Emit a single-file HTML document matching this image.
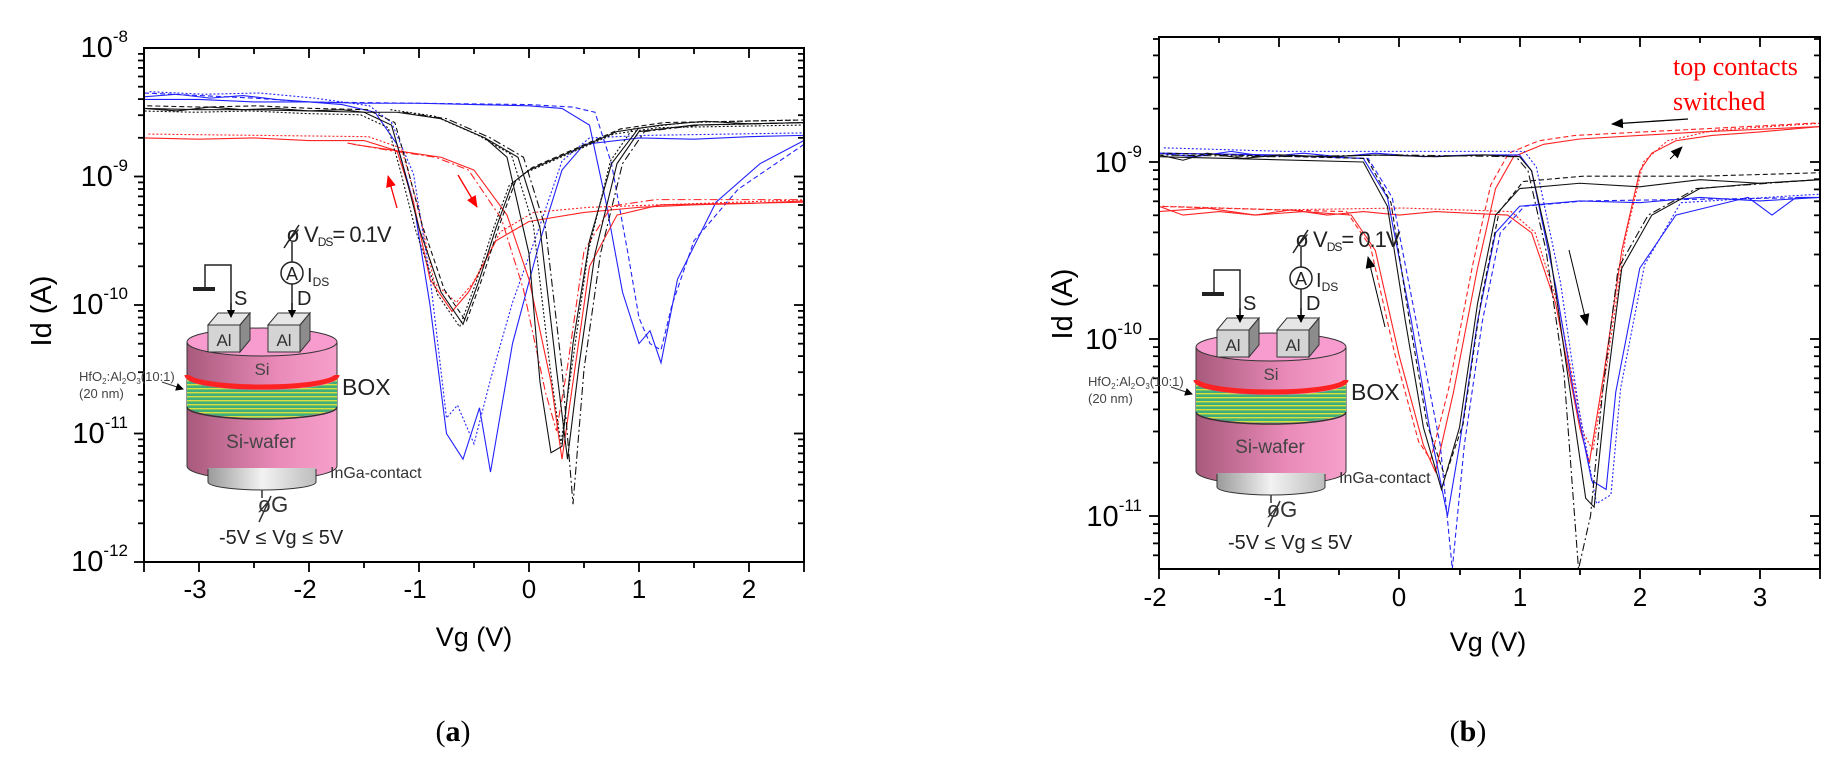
<!DOCTYPE html>
<html><head><meta charset="utf-8">
<style>
html,body{margin:0;padding:0;background:#fff;}
svg{display:block;}
.c polyline{fill:none;vector-effect:non-scaling-stroke;stroke-width:1.1;}
.k polyline{stroke:#111;} .r polyline{stroke:#f22;} .b polyline{stroke:#22f;}
.d1{stroke-dasharray:5,3;} .d2{stroke-dasharray:2,2;} .d3{stroke-dasharray:8,3,2,3;}
.tk line{stroke:#000;stroke-width:1.8;}
</style></head>
<body>
<svg width="1842" height="758" viewBox="0 0 1842 758" xmlns="http://www.w3.org/2000/svg" font-family="Liberation Sans, Arial, sans-serif">
<defs>
<linearGradient id="cyl" x1="0" x2="1" y1="0" y2="0">
<stop offset="0" stop-color="#a85a7c"/><stop offset="0.6" stop-color="#e98ab8"/><stop offset="1" stop-color="#f7a0cc"/>
</linearGradient>
<linearGradient id="gray" x1="0" x2="1" y1="0" y2="0">
<stop offset="0" stop-color="#9a9a9a"/><stop offset="0.5" stop-color="#f2f2f2"/><stop offset="1" stop-color="#bdbdbd"/>
</linearGradient>
<pattern id="stripes" width="6" height="4" patternUnits="userSpaceOnUse">
<rect width="6" height="4" fill="#3fae7a"/><rect y="0" width="6" height="1.4" fill="#d8e040"/>
</pattern>
<clipPath id="cl"><rect x="144" y="48" width="660" height="514"/></clipPath>
<clipPath id="cr"><rect x="1159" y="37" width="661" height="532"/></clipPath>
<marker id="ah" markerWidth="8" markerHeight="8" refX="7" refY="4" orient="auto" markerUnits="userSpaceOnUse"><path d="M0,0 L8,4 L0,8 z" fill="#000"/></marker>
<marker id="ahr" markerWidth="12" markerHeight="10" refX="11" refY="5" orient="auto" markerUnits="userSpaceOnUse"><path d="M0,0 L12,5 L0,10 z" fill="#f00"/></marker>
<marker id="ahb" markerWidth="12" markerHeight="10" refX="11" refY="5" orient="auto" markerUnits="userSpaceOnUse"><path d="M0,0 L12,5 L0,10 z" fill="#000"/></marker>
<g id="decL" class="tk">
 <line x1="-10" y1="0" x2="0" y2="0"/>
 <line x1="-6" y1="-38.7" x2="0" y2="-38.7"/><line x1="-6" y1="-61.3" x2="0" y2="-61.3"/>
 <line x1="-6" y1="-77.4" x2="0" y2="-77.4"/><line x1="-6" y1="-89.8" x2="0" y2="-89.8"/>
 <line x1="-6" y1="-100" x2="0" y2="-100"/><line x1="-6" y1="-108.6" x2="0" y2="-108.6"/>
 <line x1="-6" y1="-116" x2="0" y2="-116"/><line x1="-6" y1="-122.6" x2="0" y2="-122.6"/>
</g>
<g id="decR" class="tk">
 <line x1="-10" y1="0" x2="0" y2="0"/>
 <line x1="-6" y1="-53.3" x2="0" y2="-53.3"/><line x1="-6" y1="-84.5" x2="0" y2="-84.5"/>
 <line x1="-6" y1="-106.6" x2="0" y2="-106.6"/><line x1="-6" y1="-123.7" x2="0" y2="-123.7"/>
 <line x1="-6" y1="-137.7" x2="0" y2="-137.7"/><line x1="-6" y1="-149.6" x2="0" y2="-149.6"/>
 <line x1="-6" y1="-159.8" x2="0" y2="-159.8"/><line x1="-6" y1="-168.9" x2="0" y2="-168.9"/>
</g>
<g id="inset">
  <rect x="193" y="287" width="22" height="4" fill="#222"/>
  <polyline points="205,289 205,265 231,265 231,317" fill="none" stroke="#222" stroke-width="1.5" marker-end="url(#ah)"/>
  <line x1="292" y1="284" x2="292" y2="317" stroke="#222" stroke-width="1.5" marker-end="url(#ah)"/>
  <line x1="292" y1="262" x2="292" y2="242" stroke="#222" stroke-width="1.5"/>
  <circle cx="292" cy="273" r="11" fill="#fff" stroke="#222" stroke-width="1.5"/>
  <text x="292" y="280" font-size="18" text-anchor="middle" fill="#222">A</text>
  <text x="293" y="242" font-size="22" text-anchor="middle" fill="#222">ø</text>
  <line x1="284" y1="248" x2="299" y2="225" stroke="#222" stroke-width="1.5"/>
  <text x="304" y="242" font-size="22" fill="#222" letter-spacing="-1">V<tspan font-size="12" dy="4">DS</tspan><tspan dy="-4">= 0.1V</tspan></text>
  <text x="307" y="282" font-size="20" fill="#222">I<tspan font-size="12" dy="4">DS</tspan></text>
  <text x="234" y="305" font-size="20" fill="#222">S</text>
  <text x="297" y="305" font-size="20" fill="#222">D</text>
  <rect x="187" y="342" width="150" height="124" fill="url(#cyl)"/>
  <path d="M187,466 A75,14 0 0 0 337,466" fill="url(#cyl)" stroke="#333" stroke-width="1"/>
  <line x1="187" y1="342" x2="187" y2="466" stroke="#333"/>
  <line x1="337" y1="342" x2="337" y2="466" stroke="#333"/>
  <path d="M187,378 A75,12 0 0 0 337,378 L337,406 A75,12 0 0 1 187,406 z" fill="url(#stripes)"/>
  <path d="M187,375 A75,12 0 0 0 337,375" fill="none" stroke="#f22" stroke-width="5"/>
  <path d="M187,407 A75,12 0 0 0 337,407" fill="none" stroke="#333" stroke-width="1.5"/>
  <ellipse cx="262" cy="342" rx="75" ry="14" fill="#f89ccf" stroke="#333" stroke-width="1"/>
  <rect x="208" y="468" width="108" height="14" fill="url(#gray)"/>
  <path d="M208,482 A54,8 0 0 0 316,482" fill="url(#gray)" stroke="#333"/>
  <line x1="208" y1="469" x2="208" y2="482" stroke="#333"/>
  <line x1="316" y1="469" x2="316" y2="482" stroke="#333"/>
  <line x1="262" y1="490" x2="262" y2="498" stroke="#333" stroke-width="1.5"/>
  <g stroke="#333" stroke-width="1">
   <polygon points="208,325 218,313 250,313 240,325" fill="#e6e6e6"/>
   <polygon points="240,325 250,313 250,340 240,352" fill="#8c8c8c"/>
   <rect x="208" y="325" width="32" height="27" fill="#d4d4d4"/>
   <polygon points="268,325 278,313 310,313 300,325" fill="#e6e6e6"/>
   <polygon points="300,325 310,313 310,340 300,352" fill="#8c8c8c"/>
   <rect x="268" y="325" width="32" height="27" fill="#d4d4d4"/>
  </g>
  <polyline points="231,303 231,317" stroke="#222" stroke-width="1.5" marker-end="url(#ah)"/>
  <polyline points="292,303 292,317" stroke="#222" stroke-width="1.5" marker-end="url(#ah)"/>
  <text x="224" y="346" font-size="17" text-anchor="middle" fill="#333">Al</text>
  <text x="284" y="346" font-size="17" text-anchor="middle" fill="#333">Al</text>
  <text x="262" y="375" font-size="17" text-anchor="middle" fill="#444">Si</text>
  <text x="261" y="448" font-size="19" text-anchor="middle" fill="#444">Si-wafer</text>
  <text x="342" y="395" font-size="23" fill="#222">BOX</text>
  <text x="79" y="381" font-size="13" fill="#444">HfO<tspan font-size="8" dy="3">2</tspan><tspan dy="-3">:Al</tspan><tspan font-size="8" dy="3">2</tspan><tspan dy="-3">O</tspan><tspan font-size="8" dy="3">3</tspan><tspan dy="-3">(10:1)</tspan></text>
  <text x="79" y="398" font-size="13" fill="#444">(20 nm)</text>
  <line x1="162" y1="382" x2="183" y2="389" stroke="#333" stroke-width="1" marker-end="url(#ah)"/>
  <text x="330" y="478" font-size="16" fill="#333">InGa-contact</text>
  <text x="273" y="512" font-size="22" text-anchor="middle" fill="#333">øG</text>
  <line x1="259" y1="522" x2="271" y2="496" stroke="#333" stroke-width="1.5"/>
  <text x="219" y="544" font-size="20" fill="#222">-5V ≤ Vg ≤ 5V</text>
</g>
</defs>

<g clip-path="url(#cl)">
<g class="c" transform="matrix(110 0 0 -128.5 529 -980)">
 <g class="b">
  <polyline points="-3.5,-8.38 -3.2,-8.36 -2.9,-8.39 -2.6,-8.37 -2.3,-8.4 -2,-8.42 -1.7,-8.44 -1.4,-8.5 -1.2,-8.75 -1.05,-9.2 -0.9,-10 -0.75,-11 -0.6,-11.2 -0.45,-10.8 -0.35,-11.3 -0.15,-10.3 0.1,-9.5 0.3,-8.95 0.5,-8.75 1,-8.7 1.5,-8.71 2,-8.69 2.5,-8.68"/>
  <polyline class="d2" transform="translate(0.05,0.02)" points="-3.5,-8.36 -3,-8.38 -2.5,-8.37 -2,-8.41 -1.5,-8.47 -1.3,-8.6 -1.1,-9 -0.95,-9.8 -0.8,-10.9 -0.7,-10.8 -0.55,-11.1 -0.4,-10.6 -0.2,-10 0.05,-9.4 0.25,-8.9 0.5,-8.72 1,-8.7 2.5,-8.68"/>
  <polyline points="-3.5,-8.4 -3,-8.4 -2.5,-8.42 -2,-8.42 -1.5,-8.43 -1,-8.43 -0.5,-8.44 0,-8.45 0.3,-8.47 0.55,-8.6 0.7,-9.2 0.85,-9.9 1.0,-10.3 1.1,-10.2 1.2,-10.45 1.35,-9.8 1.7,-9.2 2.1,-8.9 2.5,-8.72"/>
  <polyline class="d1" points="-3.5,-8.35 -3,-8.37 -2.5,-8.39 -2,-8.42 -1,-8.43 0,-8.44 0.4,-8.46 0.6,-8.5 0.75,-8.9 0.9,-9.6 1.0,-10.1 1.1,-10.3 1.2,-10.35 1.3,-10.0 1.5,-9.5 1.9,-9.1 2.5,-8.75"/>
 </g>
 <g class="r">
  <polyline points="-3.5,-8.7 -3,-8.71 -2.5,-8.7 -2,-8.72 -1.5,-8.72 -1.2,-8.8 -1.05,-9.2 -0.9,-9.8 -0.7,-10.05 -0.55,-9.9 -0.3,-9.5 0,-9.35 0.5,-9.28 1,-9.24 1.5,-9.22 2,-9.21 2.5,-9.19"/>
  <polyline class="d2" transform="translate(0.04,0.02)" points="-3.5,-8.69 -2.5,-8.7 -1.5,-8.71 -1.2,-8.8 -1.05,-9.25 -0.9,-9.85 -0.7,-10.0 -0.55,-9.85 -0.3,-9.45 0,-9.3 0.5,-9.26 2.5,-9.2"/>
  <polyline points="-1.6,-8.75 -1.2,-8.8 -0.8,-8.85 -0.5,-8.95 -0.2,-9.3 0,-9.8 0.2,-10.6 0.3,-11.2 0.4,-10.6 0.55,-9.7 0.8,-9.3 1.2,-9.22 2.5,-9.2"/>
  <polyline class="d3" transform="translate(-0.05,0.02)" points="-1.6,-8.76 -1.2,-8.82 -0.8,-8.87 -0.5,-8.97 -0.2,-9.35 0,-9.9 0.2,-10.7 0.3,-11.0 0.4,-10.5 0.55,-9.6 0.8,-9.25 1.2,-9.2 2.5,-9.2"/>
 </g>
 <g class="k">
  <polyline points="-3.5,-8.47 -3.2,-8.49 -2.9,-8.46 -2.6,-8.48 -2.3,-8.47 -2,-8.49 -1.7,-8.48 -1.5,-8.5 -1.25,-8.6 -1.15,-8.9 -1,-9.4 -0.8,-9.9 -0.6,-10.15 -0.45,-9.8 -0.3,-9.4 -0.15,-9.05 0,-8.95 0.4,-8.8 0.8,-8.65 1.2,-8.6 1.6,-8.57 2,-8.59 2.5,-8.58"/>
  <polyline class="d1" transform="translate(0.03,0.02)" points="-3.5,-8.47 -3,-8.48 -2.5,-8.47 -2,-8.49 -1.5,-8.5 -1.25,-8.6 -1.15,-8.9 -1,-9.4 -0.8,-9.9 -0.6,-10.15 -0.45,-9.8 -0.3,-9.4 -0.15,-9.05 0,-8.95 0.4,-8.8 0.8,-8.65 1.2,-8.6 2.5,-8.58"/>
  <polyline class="d2" transform="translate(-0.03,-0.02)" points="-3.5,-8.47 -3,-8.48 -2.5,-8.47 -2,-8.49 -1.5,-8.5 -1.25,-8.6 -1.15,-8.9 -1,-9.4 -0.8,-9.9 -0.6,-10.15 -0.45,-9.8 -0.3,-9.4 -0.15,-9.05 0,-8.95 0.4,-8.8 0.8,-8.65 1.2,-8.6 2.5,-8.58"/>
  <polyline points="-3.5,-8.47 -3,-8.48 -2.5,-8.48 -2,-8.49 -1.5,-8.5 -1.2,-8.5 -0.8,-8.55 -0.4,-8.7 -0.1,-8.85 0.1,-9.4 0.25,-10.5 0.35,-11.2 0.45,-10.5 0.6,-9.6 0.8,-8.9 1,-8.65 1.5,-8.6 2,-8.59 2.5,-8.58"/>
  <polyline class="d3" transform="translate(0.05,0)" points="-1.2,-8.5 -0.8,-8.55 -0.4,-8.7 -0.1,-8.85 0.1,-9.4 0.25,-10.5 0.35,-11.55 0.45,-10.5 0.6,-9.6 0.8,-8.9 1,-8.65 1.5,-8.6 2.5,-8.58"/>
  <polyline class="d2" transform="translate(-0.06,0.02)" points="-1.2,-8.5 -0.8,-8.55 -0.4,-8.7 -0.1,-8.85 0.1,-9.4 0.25,-10.5 0.35,-11.1 0.45,-10.5 0.6,-9.6 0.8,-8.9 1,-8.65 1.5,-8.6 2.5,-8.58"/>
  <polyline transform="translate(-0.1,0)" points="-0.3,-8.7 -0.1,-8.85 0.1,-9.6 0.2,-10.6 0.3,-11.15 0.4,-11.1 0.5,-10.3 0.65,-9.5 0.85,-8.9 1.1,-8.62"/>
 </g>
</g>
</g>

<g clip-path="url(#cr)">
<g class="c" transform="matrix(120.2 0 0 -177 1399.4 -1431)">
 <g class="r">
  <polyline points="-2,-9.25 -1.8,-9.3 -1.5,-9.28 -1.2,-9.3 -0.9,-9.27 -0.6,-9.3 -0.3,-9.28 0,-9.3 0.3,-9.28 0.6,-9.29 0.9,-9.3 1.1,-9.4 1.3,-9.8 1.5,-10.5 1.58,-10.7 1.7,-10.2 1.85,-9.5 2,-9.05 2.1,-8.95 2.3,-8.88 2.6,-8.85 3,-8.83 3.5,-8.8"/>
  <polyline class="d2" transform="translate(0.03,0.02)" points="-2,-9.27 -1,-9.29 0,-9.28 0.9,-9.3 1.1,-9.42 1.3,-9.85 1.5,-10.55 1.58,-10.65 1.7,-10.15 1.85,-9.45 2,-9.02 2.2,-8.9 2.6,-8.84 3.5,-8.8"/>
  <polyline points="-2,-9.28 -1.6,-9.26 -1.2,-9.3 -0.8,-9.28 -0.4,-9.3 -0.2,-9.5 0,-10.1 0.2,-10.6 0.3,-10.75 0.45,-10.3 0.65,-9.6 0.8,-9.15 0.95,-8.97 1.2,-8.9 1.5,-8.87 2.5,-8.83 3.5,-8.8"/>
  <polyline class="d1" transform="translate(-0.04,0.02)" points="-2,-9.27 -1,-9.29 -0.4,-9.3 -0.2,-9.5 0,-10.1 0.2,-10.6 0.3,-10.7 0.45,-10.3 0.65,-9.6 0.8,-9.15 0.95,-8.97 1.2,-8.9 1.5,-8.87 3.5,-8.8"/>
 </g>
 <g class="b">
  <polyline points="-2,-8.95 -1.7,-8.97 -1.4,-8.94 -1.1,-8.97 -0.8,-8.95 -0.5,-8.97 -0.2,-8.95 0.2,-8.97 0.6,-8.96 1,-8.96 1.1,-9.05 1.3,-9.7 1.45,-10.3 1.6,-10.8 1.72,-10.85 1.8,-10.3 2,-9.6 2.3,-9.3 2.6,-9.25 2.9,-9.2 3.1,-9.3 3.3,-9.2 3.5,-9.2"/>
  <polyline class="d2" transform="translate(0.04,0.02)" points="-2,-8.94 -1,-8.96 0,-8.96 1,-8.96 1.1,-9.05 1.3,-9.7 1.45,-10.4 1.6,-10.95 1.72,-10.9 1.8,-10.3 2,-9.6 2.3,-9.25 3.5,-9.2"/>
  <polyline points="3.5,-9.2 3,-9.22 2.5,-9.2 2,-9.23 1.5,-9.22 1,-9.25 0.8,-9.4 0.65,-9.9 0.5,-10.6 0.4,-11 0.25,-10.5 0.1,-9.9 -0.1,-9.2 -0.3,-8.98 -1,-8.96 -2,-8.95"/>
  <polyline class="d1" transform="translate(0.04,0)" points="3.5,-9.2 1.5,-9.22 1,-9.25 0.8,-9.4 0.65,-9.9 0.5,-10.6 0.4,-11.3 0.3,-10.6 0.1,-9.9 -0.1,-9.2 -0.3,-8.98 -2,-8.95"/>
 </g>
 <g class="k">
  <polyline points="-2,-8.96 -1.8,-8.99 -1.6,-8.95 -1.3,-8.98 -1,-8.96 -0.6,-8.97 -0.2,-8.96 0.3,-8.97 0.7,-8.96 1,-8.97 1.1,-9.05 1.25,-9.5 1.4,-10.2 1.55,-10.9 1.62,-10.95 1.72,-10.3 1.85,-9.6 2.1,-9.3 2.5,-9.15 3,-9.12 3.5,-9.1"/>
  <polyline class="d3" transform="translate(-0.03,0)" points="-2,-8.96 -1,-8.97 0,-8.96 1,-8.97 1.1,-9.05 1.25,-9.5 1.4,-10.2 1.52,-11.3 1.62,-11.0 1.72,-10.3 1.85,-9.6 2.1,-9.3 2.5,-9.15 3.5,-9.1"/>
  <polyline points="3.5,-9.1 3,-9.12 2.5,-9.1 2,-9.14 1.5,-9.12 1,-9.15 0.8,-9.3 0.65,-9.8 0.5,-10.5 0.35,-10.85 0.2,-10.5 0.05,-9.9 -0.1,-9.25 -0.3,-9 -2,-8.97"/>
  <polyline class="d1" transform="translate(0.03,0.02)" points="3.5,-9.08 2.5,-9.1 1.5,-9.1 1,-9.13 0.8,-9.3 0.65,-9.8 0.5,-10.5 0.35,-10.8 0.2,-10.5 0.05,-9.9 -0.1,-9.25 -0.3,-9 -2,-8.97"/>
 </g>
</g>
</g>

<rect x="144" y="48" width="660" height="514" fill="none" stroke="#000" stroke-width="2"/>
<g class="tk">
 <line x1="144" y1="562" x2="144" y2="572"/><line x1="199" y1="562" x2="199" y2="572"/><line x1="254" y1="562" x2="254" y2="568"/><line x1="309" y1="562" x2="309" y2="572"/><line x1="364" y1="562" x2="364" y2="568"/><line x1="419" y1="562" x2="419" y2="572"/><line x1="474" y1="562" x2="474" y2="568"/><line x1="529" y1="562" x2="529" y2="572"/><line x1="584" y1="562" x2="584" y2="568"/><line x1="639" y1="562" x2="639" y2="572"/><line x1="694" y1="562" x2="694" y2="568"/><line x1="749" y1="562" x2="749" y2="572"/><line x1="804" y1="562" x2="804" y2="572"/>
 <line x1="199" y1="48" x2="199" y2="58"/><line x1="254" y1="48" x2="254" y2="54"/><line x1="309" y1="48" x2="309" y2="58"/><line x1="364" y1="48" x2="364" y2="54"/><line x1="419" y1="48" x2="419" y2="58"/><line x1="474" y1="48" x2="474" y2="54"/><line x1="529" y1="48" x2="529" y2="58"/><line x1="584" y1="48" x2="584" y2="54"/><line x1="639" y1="48" x2="639" y2="58"/><line x1="694" y1="48" x2="694" y2="54"/><line x1="749" y1="48" x2="749" y2="58"/>
</g>
<use href="#decL" transform="translate(144,176.5)"/><use href="#decL" transform="translate(144,305)"/><use href="#decL" transform="translate(144,433.5)"/><use href="#decL" transform="translate(144,562)"/>
<use href="#decL" transform="translate(804,176.5)"/><use href="#decL" transform="translate(804,305)"/><use href="#decL" transform="translate(804,433.5)"/><use href="#decL" transform="translate(804,562)"/>
<g font-size="26" text-anchor="middle">
 <text x="195" y="598">-3</text><text x="305" y="598">-2</text><text x="415" y="598">-1</text><text x="529" y="598">0</text><text x="639" y="598">1</text><text x="749" y="598">2</text>
</g>
<g font-size="29" text-anchor="end">
 <text x="128" y="57">10<tspan font-size="17" dy="-15">-8</tspan></text>
 <text x="128" y="186">10<tspan font-size="17" dy="-15">-9</tspan></text>
 <text x="128" y="314">10<tspan font-size="17" dy="-15">-10</tspan></text>
 <text x="128" y="443">10<tspan font-size="17" dy="-15">-11</tspan></text>
 <text x="128" y="571">10<tspan font-size="17" dy="-15">-12</tspan></text>
</g>

<rect x="1159" y="37" width="661" height="532" fill="none" stroke="#000" stroke-width="2"/>
<g class="tk">
 <line x1="1159" y1="569" x2="1159" y2="579"/><line x1="1219" y1="569" x2="1219" y2="575"/><line x1="1279" y1="569" x2="1279" y2="579"/><line x1="1339" y1="569" x2="1339" y2="575"/><line x1="1399" y1="569" x2="1399" y2="579"/><line x1="1460" y1="569" x2="1460" y2="575"/><line x1="1520" y1="569" x2="1520" y2="579"/><line x1="1580" y1="569" x2="1580" y2="575"/><line x1="1640" y1="569" x2="1640" y2="579"/><line x1="1700" y1="569" x2="1700" y2="575"/><line x1="1760" y1="569" x2="1760" y2="579"/><line x1="1820" y1="569" x2="1820" y2="579"/>
 <line x1="1219" y1="37" x2="1219" y2="43"/><line x1="1279" y1="37" x2="1279" y2="47"/><line x1="1339" y1="37" x2="1339" y2="43"/><line x1="1399" y1="37" x2="1399" y2="47"/><line x1="1460" y1="37" x2="1460" y2="43"/><line x1="1520" y1="37" x2="1520" y2="47"/><line x1="1580" y1="37" x2="1580" y2="43"/><line x1="1640" y1="37" x2="1640" y2="47"/><line x1="1700" y1="37" x2="1700" y2="43"/><line x1="1760" y1="37" x2="1760" y2="47"/>
 <line x1="1153" y1="108.7" x2="1159" y2="108.7"/><line x1="1153" y1="77.5" x2="1159" y2="77.5"/><line x1="1153" y1="55.4" x2="1159" y2="55.4"/><line x1="1153" y1="39" x2="1159" y2="39"/>
 <line x1="1814" y1="108.7" x2="1820" y2="108.7"/><line x1="1814" y1="77.5" x2="1820" y2="77.5"/><line x1="1814" y1="55.4" x2="1820" y2="55.4"/><line x1="1814" y1="39" x2="1820" y2="39"/>
 <line x1="1153" y1="524.1" x2="1159" y2="524.1"/><line x1="1153" y1="533.2" x2="1159" y2="533.2"/><line x1="1153" y1="543.4" x2="1159" y2="543.4"/><line x1="1153" y1="555.3" x2="1159" y2="555.3"/>
 <line x1="1814" y1="524.1" x2="1820" y2="524.1"/><line x1="1814" y1="533.2" x2="1820" y2="533.2"/><line x1="1814" y1="543.4" x2="1820" y2="543.4"/><line x1="1814" y1="555.3" x2="1820" y2="555.3"/>
</g>
<use href="#decR" transform="translate(1159,339)"/><use href="#decR" transform="translate(1159,516)"/>
<use href="#decR" transform="translate(1820,339)"/><use href="#decR" transform="translate(1820,516)"/>
<g class="tk"><line x1="1149" y1="162" x2="1159" y2="162"/><line x1="1810" y1="162" x2="1820" y2="162"/></g>
<g font-size="26" text-anchor="middle">
 <text x="1155" y="606">-2</text><text x="1275" y="606">-1</text><text x="1399" y="606">0</text><text x="1520" y="606">1</text><text x="1640" y="606">2</text><text x="1760" y="606">3</text>
</g>
<g font-size="29" text-anchor="end">
 <text x="1142" y="172">10<tspan font-size="17" dy="-15">-9</tspan></text>
 <text x="1142" y="349">10<tspan font-size="17" dy="-15">-10</tspan></text>
 <text x="1142" y="526">10<tspan font-size="17" dy="-15">-11</tspan></text>
</g>

<use href="#inset"/>
<use href="#inset" transform="translate(1009,5)"/>

<text transform="translate(51,311) rotate(-90)" font-size="29" text-anchor="middle">Id (A)</text>
<text x="474" y="646" font-size="27" text-anchor="middle">Vg (V)</text>
<text x="453" y="741" font-size="30" text-anchor="middle" style="font-family:'Liberation Serif',serif">(<tspan font-weight="bold">a</tspan>)</text>
<text transform="translate(1072,304) rotate(-90)" font-size="29" text-anchor="middle">Id (A)</text>
<text x="1488" y="651" font-size="27" text-anchor="middle">Vg (V)</text>
<text x="1468" y="741" font-size="30" text-anchor="middle" style="font-family:'Liberation Serif',serif">(<tspan font-weight="bold">b</tspan>)</text>
<text x="1673" y="75" font-size="26" fill="#f00" style="font-family:'Liberation Serif',serif">top contacts</text>
<text x="1673" y="110" font-size="26" fill="#f00" style="font-family:'Liberation Serif',serif">switched</text>
<line x1="1688" y1="119" x2="1612" y2="124" stroke="#000" stroke-width="1.3" marker-end="url(#ahb)"/>
<line x1="1385" y1="327" x2="1368" y2="257" stroke="#000" stroke-width="1" marker-end="url(#ahb)"/>
<line x1="1569" y1="250" x2="1587" y2="325" stroke="#000" stroke-width="1" marker-end="url(#ahb)"/>
<line x1="1670" y1="159" x2="1682" y2="147" stroke="#000" stroke-width="1" marker-end="url(#ahb)"/>
<line x1="397" y1="208" x2="388" y2="176" stroke="#f00" stroke-width="1.3" marker-end="url(#ahr)"/>
<line x1="458" y1="175" x2="477" y2="207" stroke="#f00" stroke-width="1.3" marker-end="url(#ahr)"/>
</svg>
</body></html>
